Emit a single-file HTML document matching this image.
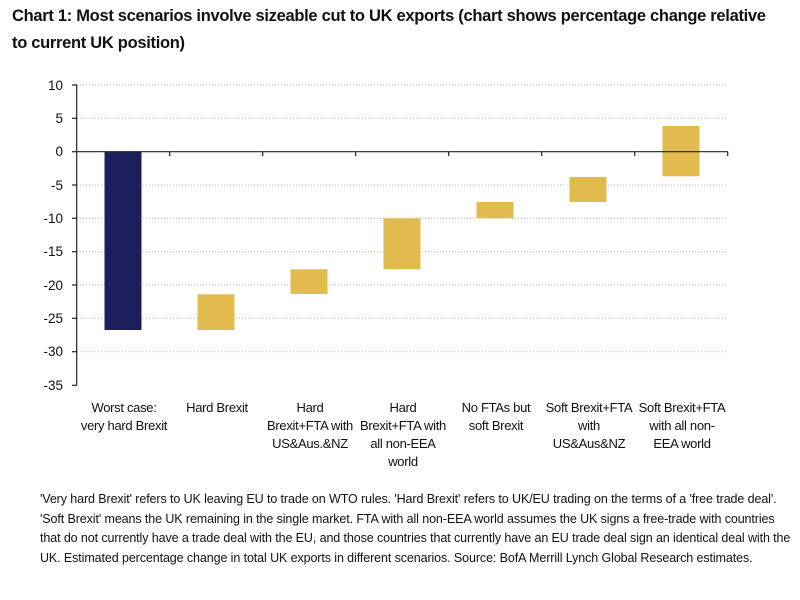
<!DOCTYPE html>
<html><head><meta charset="utf-8"><style>
body{margin:0;background:#fff;width:800px;height:600px;overflow:hidden;font-family:"Liberation Sans",Arial,sans-serif}
.t{position:absolute;left:12px;top:3px;font-size:16.5px;font-weight:bold;color:#111;line-height:27px;width:790px;letter-spacing:-0.3px;white-space:nowrap}
.n{position:absolute;left:40px;top:490px;font-size:12.5px;color:#111;line-height:19.5px;width:752px;letter-spacing:-0.1px}
</style></head><body>
<div class="t">Chart 1: Most scenarios involve sizeable cut to UK exports (chart shows percentage change relative<br>to current UK position)</div>
<svg width="800" height="600" style="position:absolute;left:0;top:0" font-family="Liberation Sans, Arial, sans-serif">
<g stroke="#bbb" stroke-dasharray="1,2" stroke-width="1">
<line x1="77" x2="728" y1="85" y2="85"/><line x1="77" x2="728" y1="118.3" y2="118.3"/>
<line x1="77" x2="728" y1="185" y2="185"/><line x1="77" x2="728" y1="218.3" y2="218.3"/>
<line x1="77" x2="728" y1="251.7" y2="251.7"/><line x1="77" x2="728" y1="285" y2="285"/>
<line x1="77" x2="728" y1="318.3" y2="318.3"/><line x1="77" x2="728" y1="351.7" y2="351.7"/>
</g>
<g fill="#e2bb4e">
<rect x="197.5" y="294.3" width="37" height="35.7"/>
<rect x="290.5" y="269.3" width="37" height="24.7"/>
<rect x="383.5" y="218.3" width="37" height="51"/>
<rect x="476.5" y="202" width="37" height="16.3"/>
<rect x="569.5" y="177" width="37" height="25"/>
<rect x="662.5" y="126" width="37" height="50.3"/>
</g>
<rect x="104.5" y="151.7" width="37" height="178.3" fill="#1c1f5c"/>
<g stroke="#222" stroke-width="1.2">
<line x1="76.7" x2="76.7" y1="85" y2="385.3"/>
<line x1="76.7" x2="728" y1="151.7" y2="151.7"/>
<line x1="72" x2="77" y1="85" y2="85"/><line x1="72" x2="77" y1="118.3" y2="118.3"/>
<line x1="72" x2="77" y1="151.7" y2="151.7"/><line x1="72" x2="77" y1="185" y2="185"/>
<line x1="72" x2="77" y1="218.3" y2="218.3"/><line x1="72" x2="77" y1="251.7" y2="251.7"/>
<line x1="72" x2="77" y1="285" y2="285"/><line x1="72" x2="77" y1="318.3" y2="318.3"/>
<line x1="72" x2="77" y1="351.7" y2="351.7"/><line x1="72" x2="77" y1="385.3" y2="385.3"/>
<line x1="169.7" x2="169.7" y1="151.7" y2="156"/><line x1="262.7" x2="262.7" y1="151.7" y2="156"/>
<line x1="355.7" x2="355.7" y1="151.7" y2="156"/><line x1="448.7" x2="448.7" y1="151.7" y2="156"/>
<line x1="541.7" x2="541.7" y1="151.7" y2="156"/><line x1="634.7" x2="634.7" y1="151.7" y2="156"/>
<line x1="727.7" x2="727.7" y1="151.7" y2="156"/>
</g>
<g font-size="13.5" fill="#111" text-anchor="end">
<text x="63" y="90">10</text><text x="63" y="123">5</text><text x="63" y="156">0</text>
<text x="63" y="190">-5</text><text x="63" y="223">-10</text><text x="63" y="256">-15</text>
<text x="63" y="290">-20</text><text x="63" y="323">-25</text><text x="63" y="356">-30</text>
<text x="63" y="390">-35</text>
</g>
<g font-size="13" fill="#111" text-anchor="middle" letter-spacing="-0.3">
<text x="124" y="412">Worst case:</text><text x="124" y="430">very hard Brexit</text>
<text x="217" y="412">Hard Brexit</text>
<text x="310" y="412">Hard</text><text x="310" y="430">Brexit+FTA with</text><text x="310" y="448">US&amp;Aus.&amp;NZ</text>
<text x="403" y="412">Hard</text><text x="403" y="430">Brexit+FTA with</text><text x="403" y="448">all non-EEA</text><text x="403" y="466">world</text>
<text x="496" y="412">No FTAs but</text><text x="496" y="430">soft Brexit</text>
<text x="589" y="412">Soft Brexit+FTA</text><text x="589" y="430">with</text><text x="589" y="448">US&amp;Aus&amp;NZ</text>
<text x="682" y="412">Soft Brexit+FTA</text><text x="682" y="430">with all non-</text><text x="682" y="448">EEA world</text>
</g>
</svg>
<div class="n">'Very hard Brexit' refers to UK leaving EU to trade on WTO rules. 'Hard Brexit' refers to UK/EU trading on the terms of a 'free trade deal'. 'Soft Brexit' means the UK remaining in the single market. FTA with all non-EEA world assumes the UK signs a free-trade with countries that do not currently have a trade deal with the EU, and those countries that currently have an EU trade deal sign an identical deal with the<br>UK. Estimated percentage change in total UK exports in different scenarios. Source: BofA Merrill Lynch Global Research estimates.</div>
</body></html>
